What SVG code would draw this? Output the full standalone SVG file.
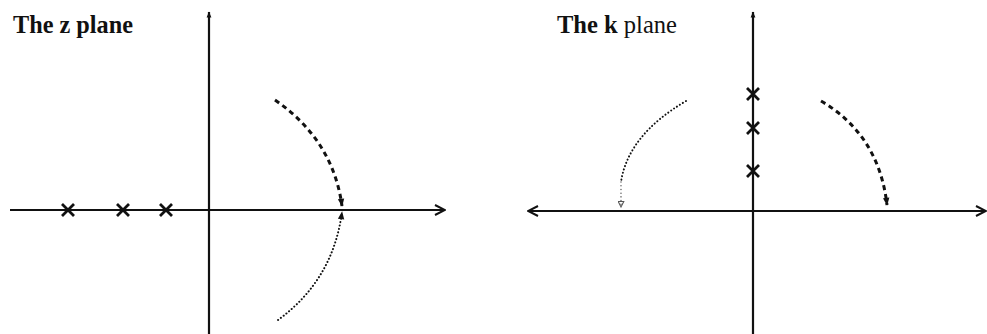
<svg xmlns="http://www.w3.org/2000/svg" width="987" height="334" viewBox="0 0 987 334">
<defs>
<style>
.axis{stroke:#111;stroke-width:2.2;fill:none}
.title{font-family:"Liberation Serif","Times New Roman",serif;font-size:25px;fill:#111}
.cross{stroke:#111;stroke-width:2.8;fill:none}
.dash{stroke:#111;stroke-width:3;fill:none;stroke-dasharray:5 4}
.dot{stroke:#111;stroke-width:2;fill:none;stroke-dasharray:0.1 3.4;stroke-linecap:round}
.dotlight{stroke:#555;stroke-width:1.4;fill:none;stroke-dasharray:0.1 3.6;stroke-linecap:round}
</style>
<marker id="chev" viewBox="0 0 12 12" refX="11" refY="6" markerWidth="12" markerHeight="12" markerUnits="userSpaceOnUse" orient="auto-start-reverse">
<path d="M1,1 L11,6 L1,11" fill="none" stroke="#111" stroke-width="2"/>
</marker>
<marker id="tip" viewBox="0 0 10 10" refX="9" refY="5" markerWidth="9" markerHeight="6" markerUnits="userSpaceOnUse" orient="auto">
<path d="M0,1 L10,5 L0,9 Z" fill="#111"/>
</marker>
<marker id="dtip" viewBox="0 0 10 10" refX="9" refY="5" markerWidth="9" markerHeight="8" markerUnits="userSpaceOnUse" orient="auto">
<path d="M0,1 L10,5 L0,9 Z" fill="#111"/>
</marker>
<marker id="otip" viewBox="0 0 10 10" refX="9" refY="5" markerWidth="8" markerHeight="7" markerUnits="userSpaceOnUse" orient="auto">
<path d="M1,1 L9,5 L1,9 Z" fill="none" stroke="#555" stroke-width="1.5"/>
</marker>
</defs>
<rect width="987" height="334" fill="#fff"/>

<g id="z-plane">
<text class="title" x="13" y="33" font-weight="bold" textLength="120" lengthAdjust="spacingAndGlyphs">The z plane</text>
<line class="axis" x1="10" y1="210" x2="445" y2="210" marker-end="url(#chev)"/>
<line class="axis" x1="209" y1="334" x2="209" y2="12" marker-end="url(#tip)"/>
<g id="z-poles" class="cross">
<path d="M62,204 L74,216 M74,204 L62,216"/>
<path d="M117,204 L129,216 M129,204 L117,216"/>
<path d="M160,204 L172,216 M172,204 L160,216"/>
</g>
</g>

<g id="k-plane">
<text class="title" x="557" y="33" textLength="120" lengthAdjust="spacingAndGlyphs"><tspan font-weight="bold">The k</tspan> plane</text>
<line class="axis" x1="986" y1="211" x2="528" y2="211" marker-start="url(#chev)" marker-end="url(#chev)"/>
<line class="axis" x1="753" y1="334" x2="753" y2="12" marker-end="url(#tip)"/>
<g id="k-poles" class="cross">
<path d="M747,88 L759,100 M759,88 L747,100"/>
<path d="M747,122 L759,134 M759,122 L747,134"/>
<path d="M747,165 L759,177 M759,165 L747,177"/>
</g>
</g>

<g id="connectors">
<path class="dash" d="M275,100 Q333,140 342,206" marker-end="url(#dtip)"/>
<path class="dot" d="M278,320 Q333,280 342,212" marker-end="url(#dtip)"/>
<path class="dot" d="M686,101 Q628,135 621,182"/>
<path class="dotlight" d="M621,182 L621,207" marker-end="url(#otip)"/>
<path class="dash" d="M821,101 Q879,135 887,205" marker-end="url(#dtip)"/>
</g>
</svg>
